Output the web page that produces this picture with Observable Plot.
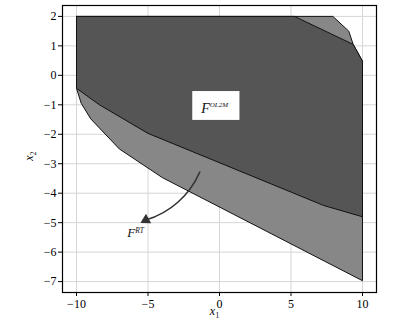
<!DOCTYPE html>
<html>
<head>
<meta charset="utf-8">
<script src="https://cdn.jsdelivr.net/npm/d3@7"></script>
<script src="https://cdn.jsdelivr.net/npm/@observablehq/plot@0.6"></script>
<style>
  html, body { margin: 0; padding: 0; background: #fff; }
  svg text { font-family: "Liberation Serif", "DejaVu Serif", serif; }
</style>
</head>
<body>
<div id="chart"></div>
<script>
// Outer (light) region F^RT polygon vertices
const lightX = [-10, 7.93, 9.04, 9.35, 10, 10, -4.0, -7.0, -9.0, -9.67, -10, -10];
const lightY = [2, 2, 1.5, 1.05, 0.48, -6.97, -3.47, -2.5, -1.48, -0.95, -0.44, 2];
// Inner (dark) region F^OL2M polygon vertices
const darkX = [-10, 5.24, 9.35, 10, 10, 7.3, -5.0, -8.4, -10, -10];
const darkY = [2, 2, 1.05, 0.48, -4.8, -4.42, -1.97, -1.0, -0.44, 2];
// Axis ticks
const xTicks = [-10, -5, 0, 5, 10];
const yTicks = [-7, -6, -5, -4, -3, -2, -1, 0, 1, 2];
// Annotations
const labelBox = {x1: -1.87, x2: 1.43, y1: -1.53, y2: -0.55};
const labelOL = {x: -1.28, y: -1.12, main: "F", sup: "OL2M"};
const labelRT = {x: -6.45, y: -5.36, main: "F", sup: "RT"};
const arrowPts = {x1: -1.38, y1: -3.28, x2: -5.15, y2: -4.91};

const light = lightX.map((x, i) => ({x, y: lightY[i]}));
const dark = darkX.map((x, i) => ({x, y: darkY[i]}));
const serif = "Liberation Serif";

const plot = Plot.plot({
  width: 394,
  height: 324,
  marginLeft: 62,
  marginRight: 18,
  marginTop: 5,
  marginBottom: 32,
  style: {fontFamily: "Liberation Serif, serif", fontSize: "12px", background: "#fff"},
  x: {domain: [-10.98, 10.98]},
  y: {domain: [-7.37, 2.37]},
  marks: [
    Plot.gridX(xTicks, {stroke: "#d6d6d6", strokeOpacity: 1}),
    Plot.gridY(yTicks, {stroke: "#d6d6d6", strokeOpacity: 1}),
    Plot.line(light, {x: "x", y: "y", fill: "#878787", stroke: "#111", strokeWidth: 1}),
    Plot.line(dark, {x: "x", y: "y", fill: "#555555", stroke: "#111", strokeWidth: 1}),
    Plot.rect([labelBox], {x1: "x1", x2: "x2", y1: "y1", y2: "y2", fill: "white"}),
    Plot.text([labelOL], {x: "x", y: "y", text: "main", textAnchor: "start", fontSize: 14, fontStyle: "italic", fontFamily: serif, fill: "#111"}),
    Plot.text([labelOL], {x: "x", y: "y", text: "sup", textAnchor: "start", dx: 8.5, dy: -3.4, fontSize: 7, fontStyle: "italic", fontFamily: serif, fill: "#111"}),
    Plot.text([labelRT], {x: "x", y: "y", text: "main", textAnchor: "start", fontSize: 13, fontStyle: "italic", fontFamily: serif, fill: "#111"}),
    Plot.text([labelRT], {x: "x", y: "y", text: "sup", textAnchor: "start", dx: 8, dy: -3, fontSize: 7.5, fontStyle: "italic", fontFamily: serif, fill: "#111"}),
    Plot.arrow([arrowPts], {x1: "x1", y1: "y1", x2: "x2", y2: "y2", bend: 25, headLength: 0, stroke: "#333", strokeWidth: 1.6}),
    Plot.dot([arrowPts], {x: "x2", y: "y2", symbol: "triangle", r: 4, rotate: 241, fill: "#333", stroke: "none"}),
    Plot.frame({stroke: "#000", strokeWidth: 1.2}),
    Plot.axisX(xTicks, {tickSize: 4, tickPadding: 3, label: null, fontSize: 12, fontFamily: serif}),
    Plot.axisY(yTicks, {tickSize: 4, tickPadding: 2, label: null, fontSize: 12, fontFamily: serif}),
    Plot.text([0], {x: () => -0.5, frameAnchor: "bottom", dy: 22, text: () => "x", fontStyle: "italic", fontSize: 12, fontFamily: serif}),
    Plot.text([0], {x: () => -0.5, frameAnchor: "bottom", dx: 5, dy: 25, text: () => "1", fontSize: 7.5, fontFamily: serif}),
    Plot.text([0], {y: () => -2.9, frameAnchor: "left", dx: -33, text: () => "x", rotate: -90, fontStyle: "italic", fontSize: 12, fontFamily: serif}),
    Plot.text([0], {y: () => -2.9, frameAnchor: "left", dx: -29, dy: -5.5, text: () => "2", rotate: -90, fontSize: 7.5, fontFamily: serif})
  ]
});
document.getElementById("chart").appendChild(plot);
</script>
</body>
</html>
